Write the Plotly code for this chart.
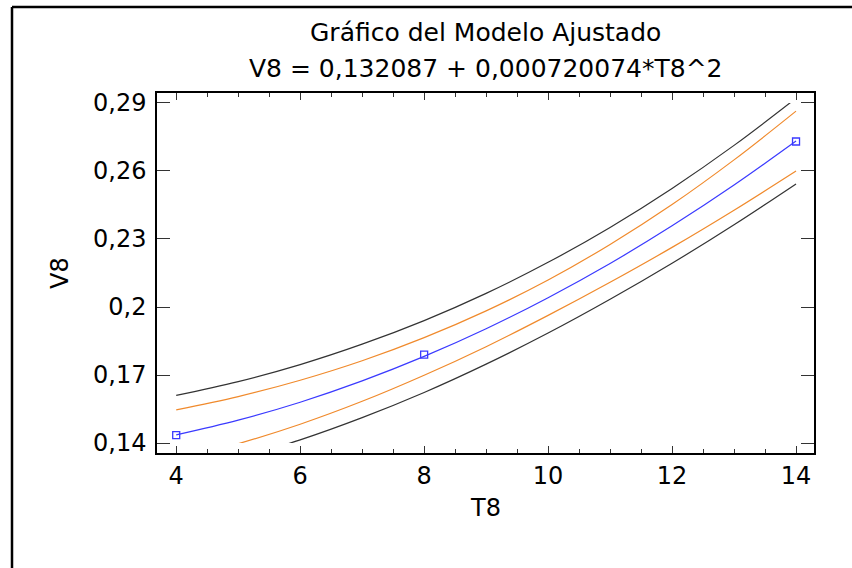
import plotly.graph_objects as go

# ---- data ----
T = [4, 5, 6, 7, 8, 9, 10, 11, 12, 13, 14]
fit = [0.1436, 0.1501, 0.1580, 0.1674, 0.1782, 0.1904, 0.2041, 0.2192, 0.2358, 0.2538, 0.2732]
conf_upper = [0.1546, 0.1605, 0.1677, 0.1763, 0.1865, 0.1983, 0.2119, 0.2276, 0.2452, 0.2649, 0.2864]
conf_lower = [0.1326, 0.1397, 0.1483, 0.1584, 0.1699, 0.1825, 0.1963, 0.2109, 0.2263, 0.2427, 0.2600]
pred_upper = [0.1610, 0.1671, 0.1746, 0.1836, 0.1940, 0.2060, 0.2197, 0.2351, 0.2523, 0.2713, 0.2921]
pred_lower = [0.1262, 0.1331, 0.1414, 0.1512, 0.1623, 0.1748, 0.1885, 0.2034, 0.2193, 0.2363, 0.2543]
obs_T = [4, 8, 14]
obs_V = [0.1435, 0.1790, 0.2730]

x_ticks = [4, 6, 8, 10, 12, 14]
y_ticks = [0.14, 0.17, 0.20, 0.23, 0.26, 0.29]
y_tick_text = ["0,14", "0,17", "0,2", "0,23", "0,26", "0,29"]

title1 = "Gráfico del Modelo Ajustado"
title2 = "V8 = 0,132087 + 0,000720074*T8^2"
x_label = "T8"
y_label = "V8"

# ---- styling ----
FONT = "DejaVu Sans, Arial, sans-serif"
BLUE = "#3a3aff"
ORANGE = "#f08a2c"
DARK = "#333333"

Y_LO, Y_HI = 0.14, 0.29
Y_PAD = 0.0044
X_RANGE = [3.69, 14.29]
span = (Y_HI - Y_LO) + 2 * Y_PAD
dom_lo = Y_PAD / span
dom_hi = 1 - Y_PAD / span

fig = go.Figure()

def add_line(y, color, name):
    fig.add_trace(go.Scatter(x=T, y=y, mode="lines", name=name,
                             line=dict(color=color, width=1.2, shape="spline"),
                             xaxis="x2", yaxis="y2", hoverinfo="skip"))

add_line(pred_upper, DARK, "pred_up")
add_line(conf_upper, ORANGE, "conf_up")
add_line(fit, BLUE, "fit")
add_line(conf_lower, ORANGE, "conf_lo")
add_line(pred_lower, DARK, "pred_lo")

fig.add_trace(go.Scatter(x=obs_T, y=obs_V, mode="markers", name="obs",
                         marker=dict(symbol="square-open", size=7, color=BLUE,
                                     line=dict(width=1.3, color=BLUE)),
                         xaxis="x2", yaxis="y2", cliponaxis=False))

# invisible anchor trace on the main axes
fig.add_trace(go.Scatter(x=[X_RANGE[0]], y=[Y_LO], mode="markers",
                         marker=dict(opacity=0), hoverinfo="skip"))

fig.update_layout(
    width=852, height=568, autosize=False,
    margin=dict(l=157, r=38, t=93, b=115),
    paper_bgcolor="white", plot_bgcolor="rgba(0,0,0,0)",
    showlegend=False,
    separators=",.",
    font=dict(family=FONT, color="black", size=24),
    xaxis=dict(range=X_RANGE, tickvals=x_ticks, ticks="inside", ticklen=7,
               tickwidth=1.2, tickcolor=DARK,
               minor=dict(dtick=0.5, tick0=4, ticks="inside", ticklen=4,
                          tickwidth=1, tickcolor=DARK),
               showline=True, linecolor="black", linewidth=1.5, mirror="ticks",
               showgrid=False, zeroline=False,
               tickfont=dict(family=FONT, size=24, color="black")),
    yaxis=dict(range=[Y_LO - Y_PAD, Y_HI + Y_PAD], tickvals=y_ticks,
               ticktext=y_tick_text, ticks="inside", ticklen=13,
               tickwidth=1.2, tickcolor=DARK, ticklabelstandoff=4,
               showline=True, linecolor="black", linewidth=1.5, mirror="ticks",
               showgrid=False, zeroline=False,
               tickfont=dict(family=FONT, size=24, color="black")),
    xaxis2=dict(range=X_RANGE, domain=[0, 1], anchor="y2", visible=False),
    yaxis2=dict(range=[Y_LO, Y_HI], domain=[dom_lo, dom_hi], anchor="x2",
                visible=False),
)

fig.add_annotation(text=title1, xref="paper", yref="paper", x=0.5, y=1 + 60 / 360,
                   showarrow=False, yanchor="middle", font=dict(family=FONT, size=25))
fig.add_annotation(text=title2, xref="paper", yref="paper", x=0.5, y=1 + 25 / 360,
                   showarrow=False, yanchor="middle", font=dict(family=FONT, size=25))
fig.add_annotation(text=x_label, xref="paper", yref="paper", x=0.5, y=-55 / 360,
                   showarrow=False, yanchor="middle", font=dict(family=FONT, size=24))
fig.add_annotation(text=y_label, xref="paper", yref="paper", x=-97 / 657, y=0.5,
                   textangle=-90, showarrow=False, xanchor="center",
                   font=dict(family=FONT, size=24))

# outer frame: left and top edges
fig.add_shape(type="line", xref="paper", yref="paper",
              x0=-145 / 657, x1=-145 / 657, y0=1 + 86 / 360, y1=-115 / 360,
              line=dict(color="black", width=2.5))
fig.add_shape(type="line", xref="paper", yref="paper",
              x0=-145 / 657, x1=1 + 38 / 657, y0=1 + 86 / 360, y1=1 + 86 / 360,
              line=dict(color="black", width=2.5))

fig.write_html("out.html", config={"displayModeBar": False},
               post_script="document.body.style.margin='0';document.body.style.overflow='hidden';")
